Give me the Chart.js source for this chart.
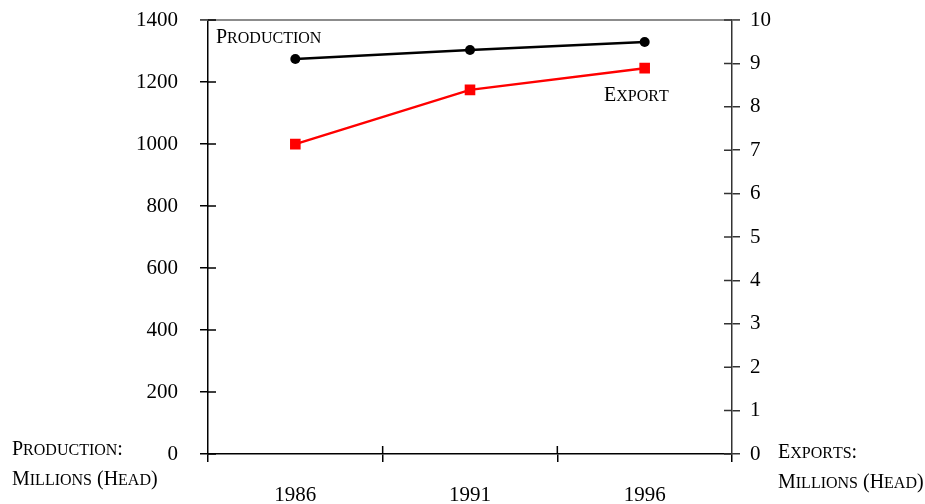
<!DOCTYPE html>
<html>
<head>
<meta charset="utf-8">
<script src="https://cdn.jsdelivr.net/npm/chart.js@4/dist/chart.umd.min.js"></script>
<style>
  html, body { margin: 0; padding: 0; background: #fff; }
  #wrap { width: 925px; height: 504px; position: relative; }
</style>
</head>
<body>
<div id="wrap"><canvas id="myChart" width="925" height="504"></canvas></div>
<script>
'use strict'

// *********DATA***********

let years = ['1986', '1991', '1996'];
let production = [1274, 1303, 1329];   // millions head, left axis
let exports = [7.14, 8.39, 8.89];      // millions head, right axis
let leftTicks = [0, 200, 400, 600, 800, 1000, 1200, 1400];
let rightTicks = [0, 1, 2, 3, 4, 5, 6, 7, 8, 9, 10];

let serif = '"Liberation Serif", "Times New Roman", serif';

// ********HELPER FUNCTIONS*********

// fake small caps: capitals and punctuation big, lower case letters small upper case
function drawSmallCaps(ctx, text, x, y, big, small){
  ctx.save();
  ctx.textBaseline = 'alphabetic';
  ctx.textAlign = 'left';
  ctx.fillStyle = '#000';
  for(let i = 0; i < text.length; i++){
    let ch = text[i];
    let isLower = ch !== ch.toUpperCase();
    ctx.font = (isLower ? small : big) + 'px ' + serif;
    let c = ch.toUpperCase();
    ctx.fillText(c, x, y);
    x += ctx.measureText(c).width;
  }
  ctx.restore();
}

// y axes: fixed width, no extra top/bottom padding from the tick labels
function fixWidth(w){
  return function(scale){
    scale.width = w;
    scale.paddingTop = 0;
    scale.paddingBottom = 0;
  };
}

// inner halves of the tick marks + top border + labels
let extrasPlugin = {
  id: 'extras',
  afterDraw(chart){
    let ctx = chart.ctx;
    let area = chart.chartArea;
    let yL = chart.scales.y;
    let yR = chart.scales.y1;
    let xS = chart.scales.x;
    ctx.save();
    ctx.lineWidth = 1.5;

    // top border
    ctx.strokeStyle = '#666';
    ctx.beginPath();
    ctx.moveTo(area.left - 8, area.top);
    ctx.lineTo(area.right + 8, area.top);
    ctx.stroke();

    ctx.strokeStyle = '#000';
    ctx.beginPath();
    yL.ticks.forEach((t, i) => {
      let py = yL.getPixelForTick(i);
      ctx.moveTo(area.left, py);
      ctx.lineTo(area.left + 8, py);
    });
    ctx.stroke();

    ctx.strokeStyle = '#333';
    ctx.beginPath();
    yR.ticks.forEach((t, i) => {
      let py = yR.getPixelForTick(i);
      ctx.moveTo(area.right - 8, py);
      ctx.lineTo(area.right, py);
    });
    ctx.stroke();

    ctx.strokeStyle = '#000';
    ctx.beginPath();
    for(let i = 0; i < years.length - 1; i++){
      let px = (xS.getPixelForTick(i) + xS.getPixelForTick(i + 1)) / 2;
      ctx.moveTo(px, area.bottom - 8);
      ctx.lineTo(px, area.bottom);
    }
    ctx.stroke();
    ctx.restore();

    // series labels
    drawSmallCaps(ctx, 'Production', 216, 43, 20, 16);
    drawSmallCaps(ctx, 'Export', 604, 101, 20, 16);

    // axis titles in the corners
    drawSmallCaps(ctx, 'Production:', 12, 455, 20, 16);
    drawSmallCaps(ctx, 'Millions (Head)', 12, 485, 20, 16);
    drawSmallCaps(ctx, 'Exports:', 778, 458, 20, 16);
    drawSmallCaps(ctx, 'Millions (Head)', 778, 488, 20, 16);
  }
};

// ************CHART RENDER****************

let ctx = document.getElementById('myChart');

let tickFont = { family: serif, size: 21 };

let myChartObj = {
  type: 'line',
  data: {
    labels: years,
    datasets: [{
      label: 'Production',
      data: production,
      yAxisID: 'y',
      borderColor: '#000',
      backgroundColor: '#000',
      borderWidth: 2.5,
      pointStyle: 'circle',
      pointRadius: 5,
      pointBorderWidth: 0,
      tension: 0
    },
    {
      label: 'Export',
      data: exports,
      yAxisID: 'y1',
      borderColor: '#ff0000',
      backgroundColor: '#ff0000',
      borderWidth: 2.5,
      pointStyle: 'rect',
      pointRadius: 7.5,
      pointBorderWidth: 0,
      tension: 0
    }]
  },
  options: {
    responsive: false,
    animation: false,
    layout: { padding: { top: 20, left: 0, right: 0, bottom: 0 } },
    plugins: {
      legend: { display: false },
      tooltip: { enabled: false }
    },
    scales: {
      x: {
        offset: true,
        grid: { offset: true, drawOnChartArea: false, tickLength: 8, color: '#000', lineWidth: 1.5 },
        border: { color: '#000', width: 1.5 },
        ticks: { color: '#000', font: tickFont, padding: 21, maxRotation: 0 },
        afterFit(scale){ scale.height = 50; }
      },
      y: {
        position: 'left',
        min: 0,
        max: 1400,
        afterBuildTicks(scale){ scale.ticks = leftTicks.map(v => ({ value: v })); },
        grid: { drawOnChartArea: false, tickLength: 8, color: '#000', lineWidth: 1.5 },
        border: { color: '#000', width: 1.5 },
        ticks: { color: '#000', font: tickFont, padding: 22, callback: v => String(v) },
        afterFit: fixWidth(208)
      },
      y1: {
        position: 'right',
        min: 0,
        max: 10,
        afterBuildTicks(scale){ scale.ticks = rightTicks.map(v => ({ value: v })); },
        grid: { drawOnChartArea: false, tickLength: 8, color: '#333', lineWidth: 1.5 },
        border: { color: '#333', width: 1.5 },
        ticks: { color: '#000', font: tickFont, padding: 10, callback: v => String(v) },
        afterFit: fixWidth(193)
      }
    }
  },
  plugins: [extrasPlugin]
};

new Chart(ctx, myChartObj);
</script>
</body>
</html>
